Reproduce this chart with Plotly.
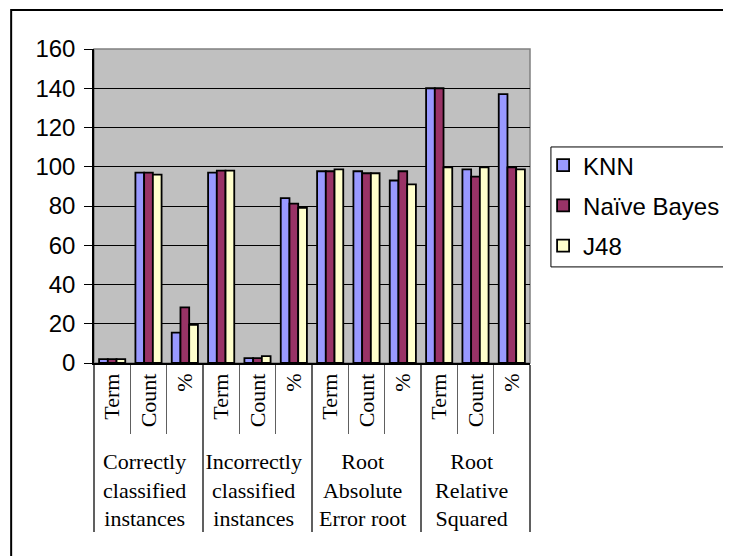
import plotly.graph_objects as go

groups = ["Correctly<br>classified<br>instances"] * 3 + ["Incorrectly<br>classified<br>instances"] * 3 + \
         ["Root<br>Absolute<br>Error root"] * 3 + ["Root<br>Relative<br>Squared"] * 3
subcats = ["Term", "Count", "%"] * 4

knn = [2, 97, 15.5, 97, 2.5, 84, 97.7, 97.7, 93, 140, 98.7, 137]
naive_bayes = [2, 97, 28.3, 98, 2.5, 81.2, 97.7, 96.7, 97.7, 140, 95, 99.7]
j48 = [2, 96, 19.5, 98, 3.5, 79, 98.7, 96.7, 91, 99.7, 99.7, 98.7]

series = [("KNN", knn, "#9999FF"), ("Naïve Bayes", naive_bayes, "#993366"), ("J48", j48, "#FFFFCC")]

fig = go.Figure()
for i, (name, vals, color) in enumerate(series):
    fig.add_trace(go.Bar(
        x=[groups, subcats], y=vals, name=name, legendgroup=name,
        marker=dict(color=color, line=dict(color="black", width=1.8)),
    ))

# the page body adds an 8px offset, compensated in the margins
fig.update_layout(
    width=731, height=556,
    margin=dict(l=86, r=209, t=41, b=201, autoexpand=False),
    paper_bgcolor="white", plot_bgcolor="#C0C0C0",
    barmode="group", bargap=0.28, bargroupgap=0,
    font=dict(family="Liberation Sans, Arial", size=23, color="black"),
    legend=dict(xref="container", yref="container", x=0.732, y=0.757,
                xanchor="left", yanchor="top",
                bgcolor="rgba(0,0,0,0)", borderwidth=0,
                font=dict(size=24), tracegroupgap=6),
    showlegend=True,
)
fig.update_xaxes(
    type="multicategory", automargin=False, showgrid=False, showline=True,
    linecolor="black", linewidth=1.5,
    ticks="outside", tickson="boundaries", ticklen=69, tickcolor="#606060",
    tickangle=-90, tickfont=dict(family="Liberation Serif, Times New Roman", size=22),
    showdividers=True, dividercolor="#606060", dividerwidth=1.5,
)
fig.update_yaxes(
    automargin=False, range=[0, 160], dtick=20, showgrid=True, gridcolor="black", gridwidth=1,
    showline=True, linecolor="black", linewidth=1.5, ticks="outside", ticklen=8,
    tickcolor="black", zeroline=False, tickfont=dict(size=24), ticklabelstandoff=4,
)
# plot area border (gray top/right)
fig.add_shape(type="rect", xref="paper", yref="paper", x0=0, x1=1, y0=0, y1=1,
              line=dict(color="#808080", width=1.5), layer="below")
# legend box
fig.add_shape(type="rect", xref="paper", yref="paper", x0=1.048, x1=1.6, y0=0.306, y1=0.688,
              line=dict(color="black", width=1))
# outer chart border
fig.add_shape(type="rect", xref="paper", yref="paper", x0=-0.19, x1=1.6, y0=-0.7, y1=1.124,
              line=dict(color="black", width=2))

fig.write_html("out.html")
